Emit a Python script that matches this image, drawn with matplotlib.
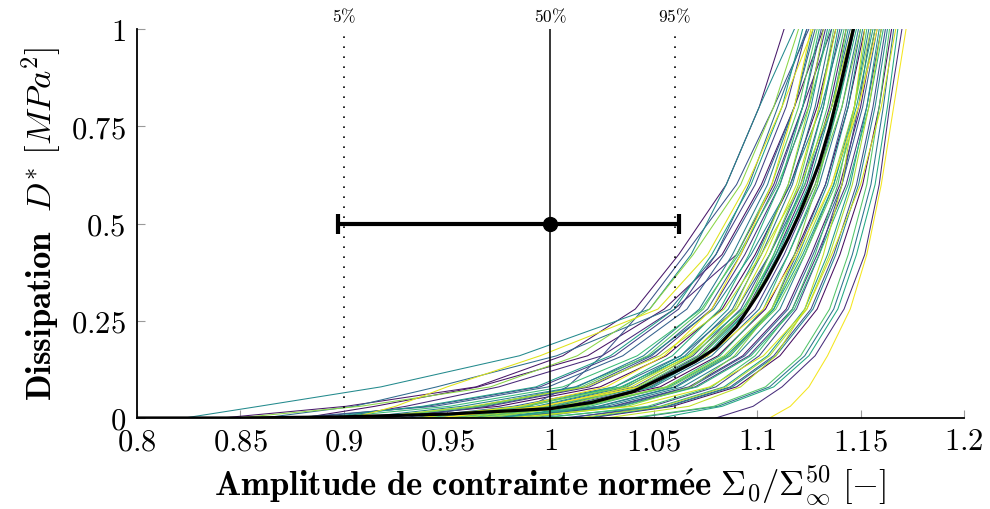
import numpy as np
import matplotlib
matplotlib.use("Agg")
import matplotlib.pyplot as plt
from matplotlib import cm

plt.rcParams['mathtext.fontset'] = 'cm'
plt.rcParams['font.family'] = ['DejaVu Serif']

# dissipation levels at which every sample curve is read
D_LEVELS = [0.0, 0.03, 0.08, 0.16, 0.28, 0.42, 0.60, 0.80, 1.0]

# abscissa of each sample curve at each level (one entry per curve)
X_D000 = [0.960, 0.915, 1.019, 0.880, 0.841, 0.980, 0.962, 0.895, 1.080, 0.920,
          0.973, 0.956, 0.880, 1.009, 0.948, 1.006, 0.960, 0.928, 0.973, 0.874,
          0.991, 0.932, 0.861, 0.935, 1.041, 0.958, 0.914, 0.967, 0.907, 1.017,
          0.823, 0.943, 0.984, 0.953, 0.993, 0.888, 0.975, 0.962, 1.053, 0.935,
          0.939, 0.984, 0.979, 0.891, 0.997, 0.950, 1.039, 0.916, 0.956, 0.970,
          0.937, 0.987, 0.848, 0.964, 0.955, 1.014, 0.912, 1.027, 0.947, 0.980,
          0.904, 0.935, 1.106, 0.945]
X_D003 = [1.010, 0.975, 1.059, 0.915, 0.901, 1.030, 1.002, 0.930, 1.098, 0.970,
          1.033, 1.006, 0.940, 1.049, 0.998, 1.056, 0.990, 0.968, 1.023, 0.944,
          1.031, 0.982, 0.905, 0.995, 1.081, 1.008, 0.964, 1.027, 0.957, 1.057,
          0.859, 0.993, 1.024, 1.003, 1.053, 0.938, 1.015, 1.012, 1.083, 0.985,
          0.989, 1.034, 1.019, 0.951, 1.047, 1.000, 1.079, 0.966, 1.016, 1.010,
          0.987, 1.037, 0.908, 1.014, 1.005, 1.054, 0.962, 1.067, 0.997, 1.040,
          0.925, 0.985, 1.116, 0.995]
X_D008 = [1.053, 1.024, 1.090, 0.965, 0.964, 1.067, 1.044, 0.975, 1.112, 1.019,
          1.070, 1.048, 0.995, 1.080, 1.041, 1.087, 1.008, 1.017, 1.060, 0.999,
          1.068, 1.031, 0.945, 1.037, 1.106, 1.050, 1.013, 1.064, 1.012, 1.088,
          0.918, 1.035, 1.061, 1.045, 1.084, 0.993, 1.057, 1.049, 1.108, 1.034,
          1.031, 1.071, 1.056, 1.006, 1.078, 1.043, 1.104, 1.015, 1.058, 1.047,
          1.036, 1.068, 0.971, 1.056, 1.042, 1.085, 1.017, 1.092, 1.039, 1.077,
          0.950, 1.027, 1.125, 1.044]
X_D016 = [1.081, 1.056, 1.111, 1.018, 1.006, 1.093, 1.072, 1.025, 1.128, 1.051,
          1.096, 1.076, 1.031, 1.101, 1.069, 1.108, 1.025, 1.049, 1.086, 1.035,
          1.094, 1.063, 1.003, 1.065, 1.123, 1.078, 1.045, 1.090, 1.048, 1.109,
          0.985, 1.063, 1.087, 1.073, 1.105, 1.029, 1.085, 1.075, 1.125, 1.066,
          1.059, 1.097, 1.082, 1.042, 1.099, 1.071, 1.121, 1.047, 1.086, 1.073,
          1.068, 1.089, 1.013, 1.084, 1.068, 1.106, 1.053, 1.109, 1.067, 1.103,
          0.995, 1.055, 1.134, 1.076]
X_D028 = [1.104, 1.083, 1.129, 1.055, 1.041, 1.114, 1.095, 1.060, 1.142, 1.078,
          1.117, 1.099, 1.062, 1.119, 1.092, 1.126, 1.045, 1.076, 1.107, 1.066,
          1.115, 1.090, 1.058, 1.088, 1.137, 1.101, 1.072, 1.111, 1.079, 1.127,
          1.048, 1.086, 1.108, 1.096, 1.123, 1.060, 1.108, 1.096, 1.139, 1.093,
          1.082, 1.118, 1.103, 1.073, 1.117, 1.094, 1.135, 1.074, 1.109, 1.094,
          1.095, 1.107, 1.048, 1.107, 1.089, 1.124, 1.084, 1.123, 1.090, 1.124,
          1.052, 1.078, 1.145, 1.103]
X_D042 = [1.118, 1.099, 1.140, 1.083, 1.062, 1.126, 1.109, 1.090, 1.152, 1.094,
          1.129, 1.113, 1.080, 1.130, 1.106, 1.137, 1.065, 1.092, 1.119, 1.084,
          1.127, 1.106, 1.080, 1.102, 1.146, 1.115, 1.088, 1.123, 1.097, 1.138,
          1.068, 1.100, 1.120, 1.110, 1.134, 1.078, 1.122, 1.108, 1.148, 1.109,
          1.096, 1.130, 1.115, 1.091, 1.128, 1.108, 1.144, 1.090, 1.123, 1.106,
          1.111, 1.118, 1.069, 1.121, 1.101, 1.135, 1.102, 1.132, 1.104, 1.136,
          1.076, 1.092, 1.153, 1.119]
X_D060 = [1.133, 1.116, 1.151, 1.102, 1.085, 1.140, 1.124, 1.108, 1.159, 1.111,
          1.143, 1.128, 1.099, 1.141, 1.121, 1.148, 1.090, 1.109, 1.133, 1.103,
          1.141, 1.123, 1.096, 1.117, 1.155, 1.130, 1.105, 1.137, 1.116, 1.149,
          1.085, 1.115, 1.134, 1.125, 1.145, 1.097, 1.137, 1.122, 1.157, 1.126,
          1.111, 1.144, 1.129, 1.110, 1.139, 1.123, 1.153, 1.107, 1.138, 1.120,
          1.128, 1.129, 1.092, 1.136, 1.115, 1.146, 1.121, 1.141, 1.119, 1.150,
          1.095, 1.107, 1.160, 1.136]
X_D080 = [1.144, 1.129, 1.159, 1.118, 1.101, 1.150, 1.135, 1.122, 1.164, 1.124,
          1.153, 1.139, 1.114, 1.149, 1.132, 1.156, 1.108, 1.122, 1.143, 1.118,
          1.151, 1.136, 1.110, 1.128, 1.161, 1.141, 1.118, 1.147, 1.131, 1.157,
          1.101, 1.126, 1.144, 1.136, 1.153, 1.112, 1.148, 1.132, 1.163, 1.139,
          1.122, 1.154, 1.139, 1.125, 1.147, 1.134, 1.159, 1.120, 1.149, 1.130,
          1.141, 1.137, 1.108, 1.147, 1.125, 1.154, 1.136, 1.147, 1.130, 1.160,
          1.112, 1.118, 1.166, 1.149]
X_D100 = [1.152, 1.138, 1.165, 1.132, 1.113, 1.157, 1.143, 1.136, 1.170, 1.133,
          1.160, 1.147, 1.124, 1.155, 1.140, 1.162, 1.125, 1.131, 1.150, 1.128,
          1.158, 1.145, 1.124, 1.136, 1.166, 1.149, 1.127, 1.154, 1.141, 1.163,
          1.118, 1.134, 1.151, 1.144, 1.159, 1.122, 1.156, 1.139, 1.168, 1.148,
          1.130, 1.161, 1.146, 1.135, 1.153, 1.142, 1.164, 1.129, 1.157, 1.137,
          1.150, 1.143, 1.120, 1.155, 1.132, 1.160, 1.146, 1.152, 1.138, 1.167,
          1.127, 1.126, 1.172, 1.158]

# mean curve
MEAN_X = [0.80, 0.85, 0.90, 0.95, 1.00, 1.02, 1.04, 1.06, 1.07, 1.08, 1.09, 1.10,
          1.105, 1.11, 1.115, 1.12, 1.125, 1.13, 1.135, 1.14, 1.1465]
MEAN_D = [0.000, 0.000, 0.003, 0.010, 0.024, 0.040, 0.068, 0.118, 0.145, 0.180, 0.235, 0.315,
          0.360, 0.410, 0.462, 0.520, 0.585, 0.655, 0.745, 0.850, 1.000]

# quantiles of the normalised endurance limit
Q_LABELS = ['5%', '50%', '95%']
Q_X = [0.90, 1.00, 1.06]
ERR_Y = 0.5
ERR_LO, ERR_HI = 0.897, 1.062

XTICKS = [0.8, 0.85, 0.9, 0.95, 1.0, 1.05, 1.1, 1.15, 1.2]
XTICK_LABELS = ['0.8', '0.85', '0.9', '0.95', '1', '1.05', '1.1', '1.15', '1.2']
YTICKS = [0, 0.25, 0.5, 0.75, 1]
YTICK_LABELS = ['0', '0.25', '0.5', '0.75', '1']

fig = plt.figure(figsize=(9.9, 5.09), dpi=100)
ax = fig.add_axes([0.1384, 0.1788, 0.8353, 0.7642])

columns = [X_D000, X_D003, X_D008, X_D016, X_D028, X_D042, X_D060, X_D080, X_D100]
curves = np.array(columns).T
n = len(curves)
for i, xs in enumerate(curves):
    ax.plot(xs, D_LEVELS, color=cm.viridis(i / (n - 1)), lw=0.75, zorder=2)

ax.plot(MEAN_X, MEAN_D, color='black', lw=2.3, zorder=4, solid_joinstyle='round')

# quantile lines and labels
for lab, xq in zip(Q_LABELS, Q_X):
    if lab == '50%':
        ax.plot([xq, xq], [0, 1], color='black', lw=1.1, zorder=3)
    else:
        ax.plot([xq, xq], [0, 1], color='black', lw=1.2, ls=(0, (1, 5)), zorder=3)
    ax.text(xq, 1.03, '$' + lab.replace('%', r'\%') + '$', ha='center', va='center',
            fontsize=12.5, clip_on=False)

xc = Q_X[1]
ax.errorbar([xc], [ERR_Y], xerr=[[xc - ERR_LO], [ERR_HI - xc]],
            fmt='o', color='black', ms=10, elinewidth=3, capsize=7, capthick=3, zorder=5)

ax.set_xlim(0.8, 1.2)
ax.set_ylim(0, 1)
ax.set_xticks(XTICKS)
ax.set_xticklabels(['$' + s + '$' for s in XTICK_LABELS], fontsize=22)
ax.set_yticks(YTICKS)
ax.set_yticklabels(['$' + s + '$' for s in YTICK_LABELS], fontsize=22)
ax.tick_params(direction='in', length=6, width=0.8, color='#9a9a9a', pad=6)
ax.tick_params(axis='y', pad=8)

for s in ['top', 'right']:
    ax.spines[s].set_visible(False)
for s in ['left', 'bottom']:
    ax.spines[s].set_linewidth(1.3)
    ax.spines[s].set_zorder(6)

ax.set_xlabel(r'$\mathbf{Amplitude\ de\ contrainte\ norm\acute{e}e}\ \Sigma_{\mathbf{0}}/\Sigma_{\infty}^{50}\ [-]$',
              fontsize=25, labelpad=4)
ax.set_ylabel(r'$\mathbf{Dissipation}\ \ D^{*}\ [MPa^{2}]$', fontsize=25, labelpad=6)

fig.savefig('out.png', dpi=100)
